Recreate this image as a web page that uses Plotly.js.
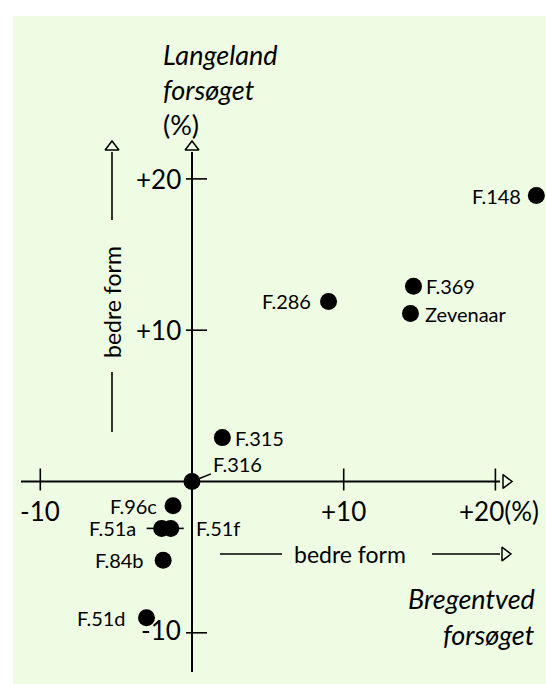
<!DOCTYPE html>
<html>
<head>
<meta charset="utf-8">
<script src="https://cdn.plot.ly/plotly-3.0.1.min.js"></script>
<style>html,body{margin:0;padding:0;background:#fff;}#chart{width:546px;height:684px;}</style>
</head>
<body>
<div id="chart"></div>
<script>
// ---- data ----
const clones = ['F.148','F.369','Zevenaar','F.286','F.315','F.316','F.96c','F.51a','F.51f','F.84b','F.51d'];
const bregentved = [22.7, 14.6, 14.4, 9.0, 2.0, 0.0, -1.25, -2.0, -1.4, -1.9, -3.0];   // x, %
const langeland  = [18.9, 12.9, 11.1, 11.9, 2.9, 0.0, -1.6, -3.1, -3.1, -5.2, -9.0];   // y, %
const xTickVals = [-10, 10, 20];
const xTickText = ['-10', '+10', '+20(%)'];
const yTickVals = [20, 10, -10];
const yTickText = ['+20', '+10', '-10'];

// ---- layout / style ----
const FONT = 'Lato, "Open Sans", sans-serif';
const BG = '#eefce4';
const W = 546, H = 684;
const plotLeft = 13, plotTop = 16;
const origin = {px: 192, py: 481.5}, scale = {x: 15.17, y: 15.13};
const px2x = p => (p - origin.px) / scale.x;
const py2y = p => (origin.py - p) / scale.y;

const xRange = [px2x(plotLeft), px2x(W)];
const yRange = [py2y(H), py2y(plotTop)];

// label placement: side, pixel gap from point centre
const placement = {
  'F.148': {side: 'left', gap: 13},
  'F.369': {side: 'right', gap: 11},
  'Zevenaar': {side: 'right', gap: 13},
  'F.286': {side: 'left', gap: 16},
  'F.315': {side: 'right', gap: 11},
  'F.316': {leader: true, ax: 45, ay: -18},
  'F.96c': {side: 'left', gap: 14},
  'F.51a': {side: 'left', gap: 24, line: [-15, -5]},
  'F.51f': {side: 'right', gap: 23, line: [5, 13]},
  'F.84b': {side: 'left', gap: 17},
  'F.51d': {side: 'left', gap: 18}
};

const lineStyle = {color: '#000', width: 1.6};
const shapes = [];
const annotations = [];

// main axes
const hAxis = [px2x(21), px2x(500)];
const vAxis = [py2y(672), py2y(152)];
shapes.push({type: 'line', xref: 'x', yref: 'y', x0: hAxis[0], x1: hAxis[1], y0: 0, y1: 0, line: {color: '#000', width: 2}});
shapes.push({type: 'line', xref: 'x', yref: 'y', x0: 0, x1: 0, y0: vAxis[0], y1: vAxis[1], line: {color: '#000', width: 2}});

// ticks crossing the axes
xTickVals.forEach(v => shapes.push({type: 'line', xref: 'x', yref: 'y', ysizemode: 'pixel', yanchor: 0,
  x0: v, x1: v, y0: -9, y1: 13, line: lineStyle}));
yTickVals.forEach(v => shapes.push({type: 'line', xref: 'x', yref: 'y', xsizemode: 'pixel', xanchor: 0,
  x0: -6, x1: 15, y0: v, y1: v, line: lineStyle}));

// tick labels
const tickFont = {family: FONT, size: 26, color: '#000'};
xTickVals.forEach((v, i) => annotations.push({x: v, y: py2y(511), xref: 'x', yref: 'y', text: xTickText[i],
  showarrow: false, xanchor: 'center', yanchor: 'middle', xshift: i === 2 ? 4 : 0, font: tickFont}));
yTickVals.forEach((v, i) => annotations.push({x: px2x(183), y: v, xref: 'x', yref: 'y', text: yTickText[i],
  showarrow: false, xanchor: 'right', yanchor: 'middle', yshift: v < 0 ? 3 : 0, font: tickFont}));

// "bedre form" arrows
const formFont = {family: FONT, size: 23, color: '#000'};
const leftArrowX = px2x(112);
shapes.push({type: 'line', xref: 'x', yref: 'y', x0: leftArrowX, x1: leftArrowX, y0: py2y(220), y1: py2y(152), line: lineStyle});
shapes.push({type: 'line', xref: 'x', yref: 'y', x0: leftArrowX, x1: leftArrowX, y0: py2y(432), y1: py2y(372), line: lineStyle});
annotations.push({x: leftArrowX, y: py2y(302), xref: 'x', yref: 'y', text: 'bedre form', textangle: -90, showarrow: false,
  font: formFont});
const bottomArrowY = py2y(554);
shapes.push({type: 'line', xref: 'x', yref: 'y', x0: px2x(220), x1: px2x(282), y0: bottomArrowY, y1: bottomArrowY, line: lineStyle});
shapes.push({type: 'line', xref: 'x', yref: 'y', x0: px2x(432), x1: px2x(500), y0: bottomArrowY, y1: bottomArrowY, line: lineStyle});
annotations.push({x: px2x(350), y: bottomArrowY, xref: 'x', yref: 'y', text: 'bedre form', showarrow: false,
  font: formFont});

// titles
const titleFont = {family: FONT, size: 27, color: '#000'};
[['<i>Langeland</i>', 54], ['<i>forsøget</i>', 89], ['(%)', 124]].forEach(([t, py]) =>
  annotations.push({x: px2x(161), y: py2y(py), xref: 'x', yref: 'y', text: t, showarrow: false, xanchor: 'left', yanchor: 'middle', font: titleFont}));
[['<i>Bregentved</i>', 598], ['<i>forsøget</i>', 634]].forEach(([t, py]) =>
  annotations.push({x: px2x(537), y: py2y(py), xref: 'x', yref: 'y', text: t, showarrow: false, xanchor: 'right', yanchor: 'middle', font: titleFont}));

// point labels
const labelFont = {family: FONT, size: 20, color: '#000'};
clones.forEach((name, i) => {
  const p = placement[name];
  const x = bregentved[i], y = langeland[i];
  if (p.leader) {
    annotations.push({x, y, xref: 'x', yref: 'y', text: name, showarrow: true, arrowhead: 0, arrowwidth: 1.5,
      arrowcolor: '#000', ax: p.ax, ay: p.ay, standoff: 8, font: labelFont});
  } else {
    annotations.push({x, y, xref: 'x', yref: 'y', text: name, showarrow: false,
      xanchor: p.side === 'left' ? 'right' : 'left', yanchor: 'middle',
      xshift: p.side === 'left' ? -p.gap : p.gap, font: labelFont});
  }
  if (p.line) {
    shapes.push({type: 'line', xref: 'x', yref: 'y', xsizemode: 'pixel', xanchor: x, ysizemode: 'pixel', yanchor: y,
      x0: p.line[0], x1: p.line[1], y0: 0, y1: 0, line: lineStyle});
  }
});

const traces = [
  {type: 'scatter', mode: 'markers', x: bregentved, y: langeland, text: clones, hoverinfo: 'text',
   marker: {color: '#000', size: 17, line: {width: 0}}, showlegend: false},
  // hollow arrowheads at the ends of the axes and of the "bedre form" arrows
  {type: 'scatter', mode: 'markers', x: [px2x(506), px2x(505)], y: [0, bottomArrowY], hoverinfo: 'skip',
   marker: {symbol: 'triangle-right-open', size: 12, color: '#000', line: {width: 1.5}}, showlegend: false},
  {type: 'scatter', mode: 'markers', x: [0, leftArrowX], y: [py2y(147), py2y(147)], hoverinfo: 'skip',
   marker: {symbol: 'triangle-up-open', size: 12, color: '#000', line: {width: 1.5}}, showlegend: false}
];

const layout = {
  width: W, height: H,
  margin: {l: 0, r: 0, t: 0, b: 0, pad: 0},
  paper_bgcolor: '#ffffff',
  plot_bgcolor: BG,
  showlegend: false,
  xaxis: {domain: [plotLeft / W, 1], range: xRange, visible: false, fixedrange: true},
  yaxis: {domain: [0, 1 - plotTop / H], range: yRange, visible: false, fixedrange: true},
  shapes, annotations
};

Plotly.newPlot('chart', traces, layout, {displayModeBar: false, staticPlot: true});
</script>
</body>
</html>
